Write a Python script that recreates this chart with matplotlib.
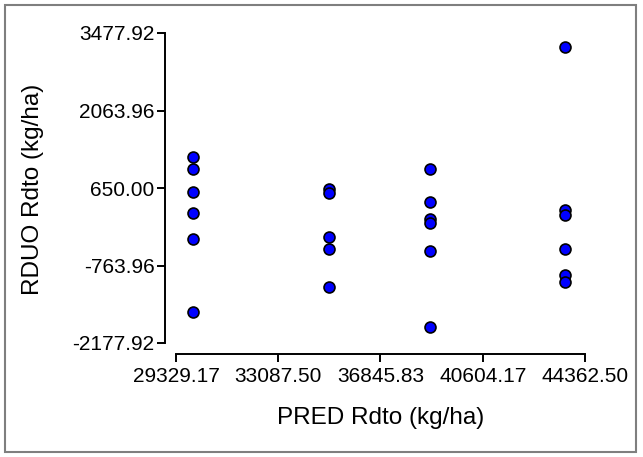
import numpy as np
import matplotlib
matplotlib.use("Agg")
import matplotlib.pyplot as plt
from matplotlib.patches import Rectangle

plt.rcParams['font.family'] = ['Liberation Sans', 'DejaVu Sans']

# data (4 groups of predicted yield)
pred_groups = [29936, 34943, 38660, 43629]
rduo_1 = [1220, 996, 583, 200, -279, -1604]
rduo_2 = [640, 553, -248, -461, -1148]
rduo_3 = [991, 400, 80, 7, -492, -1888]
rduo_4 = [3224, 249, 158, -461, -935, -1057]

x_ticks = [29329.17, 33087.50, 36845.83, 40604.17, 44362.50]
y_ticks = [-2177.92, -763.96, 650.00, 2063.96, 3477.92]

W, H = 643, 457
fig = plt.figure(figsize=(W / 100, H / 100), dpi=100)
ax = fig.add_axes([176 / W, (H - 343) / H, (585 - 176) / W, (343 - 33) / H])

for xv, ys in zip(pred_groups, [rduo_1, rduo_2, rduo_3, rduo_4]):
    ax.scatter([xv] * len(ys), ys, s=62, color='#0000FF',
               edgecolors='black', linewidths=1.2, zorder=3, clip_on=False)

ax.set_xlim(x_ticks[0], x_ticks[-1])
ax.set_ylim(y_ticks[0], y_ticks[-1])
ax.set_xticks(x_ticks)
ax.set_yticks(y_ticks)
ax.set_xticklabels([f"{v:.2f}" for v in x_ticks])
ax.set_yticklabels([f"{v:.2f}" for v in y_ticks])

for s in ['top', 'right']:
    ax.spines[s].set_visible(False)
for s in ['left', 'bottom']:
    ax.spines[s].set_position(('outward', 7.9))
    ax.spines[s].set_linewidth(1.4)
ax.tick_params(axis='both', labelsize=15, width=1.4, length=5.5, color='black')
ax.tick_params(axis='x', pad=4)
ax.tick_params(axis='y', pad=2)

fig.text(381 / W, 1 - 418 / H, "PRED Rdto (kg/ha)", fontsize=17.5,
         ha='center', va='center')
fig.text(33 / W, 1 - 189 / H, "RDUO Rdto (kg/ha)", fontsize=17.5,
         ha='center', va='center', rotation=90)

fig.patches.append(Rectangle((5 / W, (H - 452) / H), 631 / W, 447 / H,
                             transform=fig.transFigure, fill=False,
                             edgecolor='#7f7f7f', linewidth=1.5))

fig.savefig("out.png", dpi=100)
